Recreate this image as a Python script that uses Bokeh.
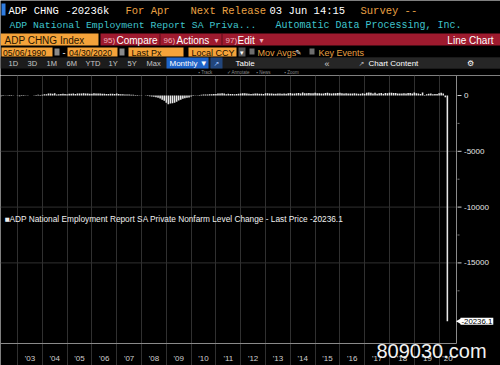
import math
from bokeh.plotting import figure
from bokeh.models import Range1d, Label, FixedTicker, Grid, ColumnDataSource
from bokeh.core.properties import value
from bokeh.layouts import column
from bokeh.embed import file_html
from bokeh.resources import INLINE

# ---------------- data (ADP monthly change, thousands) ----------------
start_year = 2002
start_month = 4  # first value is April 2002
adp_2002 = [-60, -40, -30, -20, -50, -40, -20, -10, -30]
adp_2003 = [-60, -40, -50, -30, -20, -10, 0, 20, 40, 60, 50, 70]
adp_2004 = [120, 110, 180, 190, 150, 200, 100, 120, 130, 150, 140, 110]
adp_2005 = [150, 160, 170, 140, 170, 180, 190, 200, 180, 170, 160, 150]
adp_2006 = [200, 180, 190, 180, 160, 150, 140, 130, 150, 160, 140, 170]
adp_2007 = [130, 120, 110, 100, 90, 80, 70, 60, 50, 40, 30, 20]
adp_2008 = [0, -20, -40, -60, -90, -120, -160, -200, -280, -380, -480, -650]
adp_2009 = [-780, -720, -700, -650, -550, -450, -380, -300, -250, -200, -170, -100]
adp_2010 = [-50, -20, 20, 50, 60, 80, 90, 100, 110, 120, 130, 140]
adp_2011 = [180, 190, 200, 170, 120, 150, 140, 130, 120, 140, 150, 170]
adp_2012 = [200, 210, 190, 150, 130, 160, 170, 180, 150, 160, 140, 200]
adp_2013 = [200, 190, 180, 160, 150, 170, 180, 160, 170, 150, 210, 230]
adp_2014 = [170, 180, 200, 220, 180, 260, 210, 200, 230, 210, 200, 240]
adp_2015 = [210, 200, 190, 180, 220, 240, 200, 190, 200, 210, 220, 240]
adp_2016 = [200, 190, 210, 180, 170, 190, 200, 180, 160, 150, 210, 160]
adp_2017 = [240, 260, 250, 190, 240, 160, 200, 230, 150, 230, 200, 250]
adp_2018 = [240, 230, 220, 170, 180, 190, 200, 170, 220, 230, 170, 270]
adp_2019 = [210, 180, 140, 270, 50, 110, 160, 190, 120, 140, 130, 210]
adp_2020 = [250, 180, -149, -20236.1]

year_labels = ["'03", "'04", "'05", "'06", "'07", "'08", "'09", "'10", "'11",
               "'12", "'13", "'14", "'15", "'16", "'17", "'18", "'19", "'20"]
y_ticks = [0, -5000, -10000, -15000]
y_tick_labels = ["0", "-5000", "-10000", "-15000"]
y_minor = [-2500, -7500, -12500, -17500]
last_value = -20236.1
legend_text = "\u25a0ADP National Employment Report SA Private Nonfarm Level Change - Last Price -20236.1"

# build series: x in months since Jan 2000 (month-end)
series = [adp_2002, adp_2003, adp_2004, adp_2005, adp_2006, adp_2007, adp_2008,
          adp_2009, adp_2010, adp_2011, adp_2012, adp_2013, adp_2014, adp_2015,
          adp_2016, adp_2017, adp_2018, adp_2019, adp_2020]
xs, ys = [], []
for i, vals in enumerate(series):
    yr = start_year + i
    m0 = start_month if i == 0 else 1
    for j, v in enumerate(vals):
        xs.append((yr - 2000) * 12 + m0 + j)
        ys.append(v)

MONO = "Liberation Mono"
SANS = "Liberation Sans"
ORANGE = "#e9a043"
TEAL = "#3fc4cc"

# ---------------- header ----------------
h = figure(width=500, height=75, x_range=Range1d(0, 500), y_range=Range1d(75, 0),
           output_backend="svg", toolbar_location=None, min_border=0,
           x_axis_location=None, y_axis_location=None,
           background_fill_color="black", border_fill_color="black",
           outline_line_color=None)
h.grid.visible = False

rects = [
    # left, right, top, bottom, color
    (1, 5, 3, 15, "#2f7de1"),
    (0, 98, 33, 45, "#f5a33a"),
    (100, 500, 33, 45, "#9e1a2e"),
    (159, 160, 33, 45, "#5a0c18"),
    (221, 222, 33, 45, "#5a0c18"),
    (1, 52, 47, 56, "#f5a33a"),
    (54, 59, 48, 55, "#8a8a8a"),
    (67, 117, 47, 56, "#f5a33a"),
    (119, 124, 48, 55, "#8a8a8a"),
    (128, 183, 47, 56, "#f5a33a"),
    (188, 236, 47, 56, "#f5a33a"),
    (238, 245, 47, 56, "#555555"),
    (249, 254, 48, 54, "#6e6e6e"),
    (309, 314, 48, 54, "#6e6e6e"),
    (0, 500, 57, 68, "#1c1c1c"),
    (246, 500, 57, 68, "#262626"),
    (166, 208, 57, 68, "#1f63c6"),
    (210, 222, 57, 68, "#22467c"),
]
h.quad(left=[r[0] for r in rects], right=[r[1] for r in rects],
       top=[r[2] for r in rects], bottom=[r[3] for r in rects],
       fill_color=[r[4] for r in rects], line_color=None)


def lab(fig, x, y, text, color, size, font=SANS, align="left", baseline="middle", **kw):
    fig.add_layout(Label(x=x, y=y, text=text, text_color=color,
                         text_font_size=f"{size}px", text_font=font,
                         text_align=align, text_baseline=baseline, **kw))

# row 1
lab(h, 8, 10, "ADP CHNG -20236k", "white", 10.5, MONO)
lab(h, 125, 10, "For Apr", ORANGE, 10.5, MONO)
lab(h, 190, 10, "Next Release", ORANGE, 10.5, MONO)
lab(h, 269, 10, "03 Jun 14:15", "white", 10.5, MONO)
lab(h, 360, 10, "Survey --", ORANGE, 10.5, MONO)
# row 2
lab(h, 9, 25, "ADP National Employment Report SA Priva...", TEAL, 9.8, MONO)
lab(h, 275, 25, "Automatic Data Processing, Inc.", TEAL, 10, MONO)
# row 3
lab(h, 4, 39.5, "ADP CHNG Index", "#2a1600", 10)
lab(h, 103, 39.5, "95)", "#f2b4bd", 8)
lab(h, 116, 39.5, "Compare", "white", 10)
lab(h, 163, 39.5, "96)", "#f2b4bd", 8)
lab(h, 176, 39.5, "Actions", "white", 10)
lab(h, 214, 39.5, "\u25be", "#f2b4bd", 8, "DejaVu Sans")
lab(h, 225, 39.5, "97)", "#f2b4bd", 8)
lab(h, 237, 39.5, "Edit", "white", 10)
lab(h, 259, 39.5, "\u25be", "#f2b4bd", 8, "DejaVu Sans")
lab(h, 493, 39.5, "Line Chart", "white", 10, align="right")
# row 4
lab(h, 2.5, 52, "05/06/1990", "#1a1000", 8.6)
lab(h, 62, 52, "-", "white", 9)
lab(h, 68.5, 52, "04/30/2020", "#1a1000", 8.6)
lab(h, 131, 52, "Last Px", "#1a1000", 9)
lab(h, 191, 52, "Local CCY", "#1a1000", 9)
lab(h, 239.5, 52, "\u25be", "white", 7, "DejaVu Sans")
lab(h, 257, 52, "Mov Avgs", ORANGE, 9)
lab(h, 295, 52, "\u270e", "white", 7, "DejaVu Sans")
lab(h, 318, 52, "Key Events", ORANGE, 9)
# row 5
for x, t in [(8, "1D"), (27, "3D"), (46, "1M"), (66, "6M"), (85, "YTD"),
             (108, "1Y"), (127, "5Y"), (146, "Max")]:
    lab(h, x, 63, t, "#c8c8c8", 7.5)
lab(h, 169, 63, "Monthly \u25bc", "white", 8)
lab(h, 216, 63, "\u2197", "#9fc3ff", 7, "DejaVu Sans", align="center")
lab(h, 235, 63, "Table", "white", 8)
lab(h, 324, 63, "\u00ab", "#d0d0d0", 9)
lab(h, 361, 63, "\u2197", "#bbbbbb", 7, "DejaVu Sans", align="center")
lab(h, 368, 63, "Chart Content", "white", 8)
lab(h, 470, 63, "\u2699", "white", 8, "DejaVu Sans", align="center")
# row 6
for x, t in [(198, "\u25aa Track"), (226, "\u2713 Annotate"), (256, "\u25aa News"), (284, "\u25aa Zoom")]:
    lab(h, x, 72, t, "#8a8a8a", 4.5)

# ---------------- chart (frame = whole canvas) ----------------
W, H = 500, 290
ppm = 24.8 / 12.0                  # pixels per month
upp = 5000 / 55.8                  # value units per pixel
def xd(px):                        # pixel -> month coordinate
    return 36 + (px - 17) / ppm
def yd(py):                        # pixel (from top of chart canvas) -> value
    return -(py - 20) * upp

x_start, x_end = xd(0), xd(W)
y_end, y_start = yd(0), yd(H)
axis_x = xd(456)
axis_bottom = yd(268)

p = figure(width=W, height=H, x_range=Range1d(x_start, x_end),
           y_range=Range1d(y_start, y_end), output_backend="svg",
           toolbar_location=None, x_axis_location=None, y_axis_location=None,
           background_fill_color="black", border_fill_color="black",
           outline_line_color=None, min_border=0)
p.grid.visible = False

year_bounds = [(y - 2000) * 12 for y in range(2003, 2021)]
label_pos = [(y - 2000) * 12 + 6 for y in range(2003, 2020)] + [244]

# vertical year grid (runs through the date strip, like the separators)
p.add_layout(Grid(dimension=0, ticker=FixedTicker(ticks=year_bounds),
                  grid_line_color="#303030", grid_line_width=1))
# horizontal grid up to the value axis
p.segment(x0=[x_start] * 3, x1=[axis_x] * 3, y0=y_ticks[1:], y1=y_ticks[1:],
          line_color="#303030", line_width=1)

# bars
src = ColumnDataSource(dict(x=xs, y=ys))
p.vbar(x="x", top="y", bottom=0, width=0.75, source=src,
       fill_color="#e8e8e8", line_color=None)

# axis lines
p.segment(x0=[x_start, axis_x], x1=[axis_x, axis_x],
          y0=[axis_bottom, axis_bottom], y1=[axis_bottom, y_end],
          line_color="#8a8a8a", line_width=1)
# value-axis ticks
p.segment(x0=[axis_x + 1 / ppm] * len(y_ticks), x1=[axis_x + 5 / ppm] * len(y_ticks),
          y0=y_ticks, y1=y_ticks, line_color="#d0d0d0", line_width=1)
p.segment(x0=[axis_x + 1 / ppm] * len(y_minor), x1=[axis_x + 3 / ppm] * len(y_minor),
          y0=y_minor, y1=y_minor, line_color="#777777", line_width=1)
p.text(x=[axis_x + 7.5 / ppm] * len(y_ticks), y=y_ticks, text=y_tick_labels,
       text_color="#e6e6e6", text_font=value(SANS),
       text_font_size="8px", text_baseline="middle", text_align="left")
# date labels
p.text(x=label_pos, y=[yd(283)] * len(label_pos), text=year_labels,
       text_color="#cfcfcf", text_font=value(SANS),
       text_font_size="8px", text_baseline="middle", text_align="center")

# last value tag with pointer
p.scatter(x=[axis_x + 3 / ppm], y=[last_value], marker="triangle", angle=math.pi / 2,
          size=6, fill_color="white", line_color=None)
p.add_layout(Label(x=axis_x + 4 / ppm, y=last_value, text=f"{last_value}",
                   text_color="black", text_font=SANS, text_font_size="7.8px",
                   text_baseline="middle", background_fill_color="white", padding=1))

# legend text
p.add_layout(Label(x=xd(4), y=yd(143), text=legend_text, text_color="#f0f0f0",
                   text_font=SANS, text_font_size="8.3px", text_baseline="middle"))
# watermark
p.add_layout(Label(x=xd(376), y=yd(275), text="809030.com", text_color="#f2f2f2",
                   text_font=SANS, text_font_size="20px", text_baseline="middle"))

layout = column(h, p, spacing=0)
open("out.html", "w").write(file_html(layout, INLINE))
